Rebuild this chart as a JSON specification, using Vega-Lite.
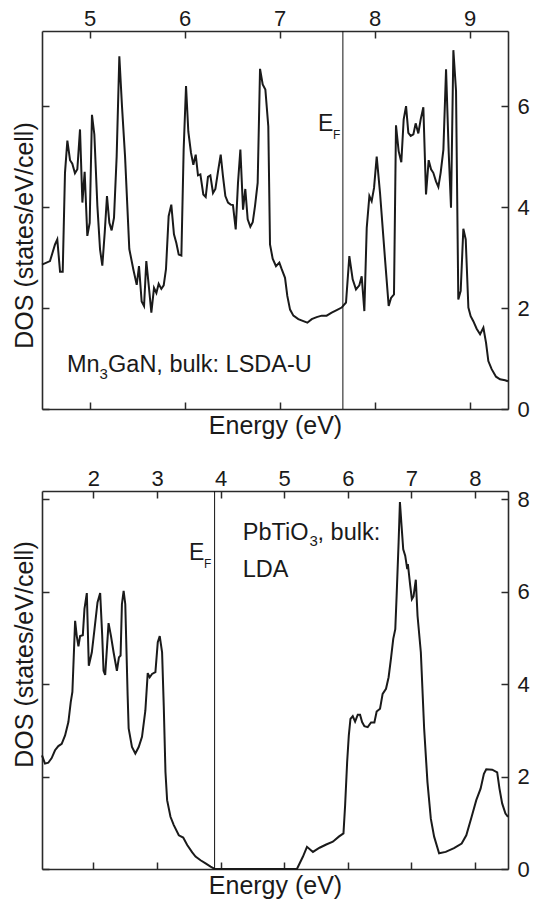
{
  "$schema": "https://vega.github.io/schema/vega-lite/v6.json",
  "padding": {"left": 12, "top": 7, "right": 0, "bottom": 0},
  "background": "white",
  "spacing": 82,
  "bounds": "flush",
  "config": {
    "view": {"stroke": null},
    "font": "Liberation Sans",
    "axis": {
      "grid": false,
      "domainColor": "#2a2a2a",
      "domainWidth": 1.6,
      "tickColor": "#2a2a2a",
      "tickWidth": 1.5,
      "tickSize": -7,
      "labelFont": "Liberation Sans",
      "labelFontSize": 22,
      "labelColor": "#1a1a1a",
      "labelPadding": 4,
      "titleFont": "Liberation Sans",
      "titleFontSize": 25,
      "titleFontWeight": "normal",
      "titleColor": "#1a1a1a",
      "titlePadding": 4
    }
  },
  "datasets": {
    "mn3gan": [
      {"e":4.5,"dos":2.86},{"e":4.584,"dos":2.93},{"e":4.637,"dos":3.26},{"e":4.661,"dos":3.36},{"e":4.69,"dos":2.72},{"e":4.718,"dos":2.72},{"e":4.742,"dos":4.68},{"e":4.767,"dos":5.32},{"e":4.795,"dos":4.93},{"e":4.819,"dos":4.86},{"e":4.847,"dos":4.67},{"e":4.872,"dos":4.75},{"e":4.9,"dos":5.54},{"e":4.925,"dos":4.09},{"e":4.949,"dos":4.7},{"e":4.977,"dos":3.43},{"e":5.002,"dos":3.69},{"e":5.026,"dos":5.83},{"e":5.051,"dos":5.44},{"e":5.083,"dos":4.02},{"e":5.111,"dos":3.16},{"e":5.135,"dos":2.84},{"e":5.16,"dos":3.49},{"e":5.184,"dos":4.22},{"e":5.209,"dos":3.69},{"e":5.233,"dos":3.54},{"e":5.258,"dos":3.79},{"e":5.286,"dos":5.01},{"e":5.314,"dos":6.99},{"e":5.342,"dos":6.0},{"e":5.374,"dos":5.01},{"e":5.419,"dos":3.17},{"e":5.461,"dos":2.77},{"e":5.497,"dos":2.46},{"e":5.521,"dos":2.83},{"e":5.549,"dos":2.13},{"e":5.574,"dos":2.04},{"e":5.598,"dos":2.93},{"e":5.626,"dos":2.4},{"e":5.651,"dos":1.91},{"e":5.679,"dos":2.4},{"e":5.704,"dos":2.3},{"e":5.728,"dos":2.48},{"e":5.756,"dos":2.38},{"e":5.781,"dos":2.45},{"e":5.805,"dos":2.77},{"e":5.833,"dos":3.82},{"e":5.861,"dos":4.05},{"e":5.889,"dos":3.46},{"e":5.914,"dos":3.29},{"e":5.939,"dos":3.06},{"e":5.967,"dos":3.04},{"e":5.991,"dos":5.14},{"e":6.016,"dos":6.4},{"e":6.04,"dos":5.5},{"e":6.068,"dos":5.08},{"e":6.093,"dos":4.84},{"e":6.118,"dos":5.04},{"e":6.142,"dos":4.63},{"e":6.167,"dos":4.65},{"e":6.198,"dos":4.25},{"e":6.223,"dos":4.2},{"e":6.247,"dos":4.6},{"e":6.272,"dos":4.63},{"e":6.3,"dos":4.28},{"e":6.325,"dos":4.36},{"e":6.356,"dos":4.75},{"e":6.381,"dos":5.04},{"e":6.405,"dos":4.61},{"e":6.43,"dos":4.22},{"e":6.458,"dos":4.09},{"e":6.486,"dos":4.05},{"e":6.51,"dos":4.04},{"e":6.539,"dos":3.56},{"e":6.563,"dos":4.48},{"e":6.588,"dos":5.14},{"e":6.616,"dos":3.95},{"e":6.64,"dos":4.36},{"e":6.665,"dos":3.76},{"e":6.693,"dos":3.61},{"e":6.718,"dos":3.7},{"e":6.742,"dos":4.02},{"e":6.77,"dos":4.48},{"e":6.795,"dos":6.74},{"e":6.823,"dos":6.43},{"e":6.851,"dos":6.33},{"e":6.882,"dos":5.6},{"e":6.9,"dos":3.26},{"e":6.928,"dos":2.98},{"e":6.963,"dos":2.83},{"e":6.998,"dos":2.9},{"e":7.023,"dos":2.77},{"e":7.058,"dos":2.6},{"e":7.082,"dos":2.24},{"e":7.111,"dos":1.97},{"e":7.146,"dos":1.85},{"e":7.198,"dos":1.78},{"e":7.251,"dos":1.74},{"e":7.293,"dos":1.71},{"e":7.339,"dos":1.78},{"e":7.391,"dos":1.82},{"e":7.444,"dos":1.85},{"e":7.496,"dos":1.85},{"e":7.549,"dos":1.91},{"e":7.602,"dos":1.96},{"e":7.654,"dos":2.01},{"e":7.7,"dos":2.11},{"e":7.735,"dos":3.03},{"e":7.77,"dos":2.57},{"e":7.805,"dos":2.37},{"e":7.84,"dos":2.45},{"e":7.865,"dos":2.63},{"e":7.893,"dos":1.94},{"e":7.918,"dos":3.59},{"e":7.946,"dos":4.22},{"e":7.97,"dos":4.12},{"e":7.995,"dos":4.38},{"e":8.023,"dos":5.0},{"e":8.058,"dos":4.28},{"e":8.111,"dos":2.96},{"e":8.149,"dos":2.04},{"e":8.174,"dos":2.2},{"e":8.205,"dos":2.27},{"e":8.226,"dos":5.62},{"e":8.254,"dos":5.11},{"e":8.282,"dos":4.89},{"e":8.307,"dos":5.74},{"e":8.332,"dos":6.0},{"e":8.356,"dos":5.47},{"e":8.381,"dos":5.41},{"e":8.409,"dos":5.44},{"e":8.433,"dos":5.66},{"e":8.461,"dos":5.46},{"e":8.486,"dos":5.74},{"e":8.514,"dos":5.98},{"e":8.542,"dos":4.25},{"e":8.57,"dos":4.93},{"e":8.595,"dos":4.75},{"e":8.619,"dos":4.68},{"e":8.647,"dos":4.51},{"e":8.672,"dos":4.4},{"e":8.696,"dos":4.68},{"e":8.725,"dos":5.14},{"e":8.753,"dos":6.73},{"e":8.781,"dos":5.08},{"e":8.805,"dos":3.99},{"e":8.83,"dos":7.11},{"e":8.858,"dos":6.3},{"e":8.882,"dos":2.17},{"e":8.907,"dos":2.34},{"e":8.935,"dos":3.57},{"e":8.96,"dos":3.36},{"e":8.988,"dos":2.01},{"e":9.012,"dos":1.84},{"e":9.04,"dos":1.74},{"e":9.075,"dos":1.59},{"e":9.111,"dos":1.48},{"e":9.146,"dos":1.61},{"e":9.174,"dos":1.31},{"e":9.198,"dos":0.95},{"e":9.233,"dos":0.79},{"e":9.279,"dos":0.64},{"e":9.321,"dos":0.59},{"e":9.374,"dos":0.57},{"e":9.405,"dos":0.55}
    ],
    "pbtio3": [
      {"e":1.19,"dos":2.46},{"e":1.237,"dos":2.28},{"e":1.289,"dos":2.3},{"e":1.342,"dos":2.4},{"e":1.395,"dos":2.57},{"e":1.447,"dos":2.66},{"e":1.5,"dos":2.71},{"e":1.553,"dos":2.89},{"e":1.605,"dos":3.18},{"e":1.642,"dos":3.61},{"e":1.668,"dos":3.83},{"e":1.711,"dos":5.37},{"e":1.737,"dos":5.04},{"e":1.763,"dos":4.82},{"e":1.789,"dos":5.04},{"e":1.832,"dos":5.06},{"e":1.858,"dos":5.63},{"e":1.895,"dos":5.97},{"e":1.926,"dos":4.4},{"e":1.974,"dos":4.69},{"e":2.016,"dos":5.19},{"e":2.063,"dos":5.77},{"e":2.105,"dos":5.97},{"e":2.137,"dos":5.05},{"e":2.158,"dos":4.29},{"e":2.184,"dos":4.2},{"e":2.237,"dos":5.32},{"e":2.274,"dos":5.05},{"e":2.316,"dos":4.69},{"e":2.368,"dos":4.29},{"e":2.4,"dos":4.58},{"e":2.426,"dos":4.62},{"e":2.447,"dos":5.73},{"e":2.474,"dos":6.02},{"e":2.5,"dos":5.73},{"e":2.537,"dos":3.76},{"e":2.553,"dos":3.04},{"e":2.605,"dos":2.64},{"e":2.658,"dos":2.5},{"e":2.711,"dos":2.64},{"e":2.763,"dos":2.86},{"e":2.816,"dos":3.43},{"e":2.853,"dos":4.24},{"e":2.884,"dos":4.15},{"e":2.921,"dos":4.22},{"e":2.974,"dos":4.26},{"e":3.011,"dos":4.91},{"e":3.042,"dos":5.04},{"e":3.079,"dos":4.69},{"e":3.105,"dos":3.54},{"e":3.132,"dos":2.1},{"e":3.158,"dos":1.49},{"e":3.211,"dos":1.13},{"e":3.263,"dos":0.95},{"e":3.342,"dos":0.73},{"e":3.411,"dos":0.68},{"e":3.474,"dos":0.52},{"e":3.553,"dos":0.36},{"e":3.605,"dos":0.27},{"e":3.684,"dos":0.19},{"e":3.763,"dos":0.12},{"e":3.842,"dos":0.05},{"e":3.884,"dos":0.02},{"e":3.905,"dos":0},{"e":5.2,"dos":0},{"e":5.295,"dos":0.27},{"e":5.358,"dos":0.48},{"e":5.452,"dos":0.37},{"e":5.556,"dos":0.46},{"e":5.661,"dos":0.53},{"e":5.765,"dos":0.59},{"e":5.859,"dos":0.7},{"e":5.932,"dos":0.77},{"e":5.958,"dos":1.38},{"e":5.99,"dos":2.32},{"e":6.016,"dos":2.89},{"e":6.042,"dos":3.25},{"e":6.078,"dos":3.31},{"e":6.115,"dos":3.19},{"e":6.157,"dos":3.34},{"e":6.193,"dos":3.34},{"e":6.225,"dos":3.18},{"e":6.261,"dos":3.09},{"e":6.313,"dos":3.07},{"e":6.366,"dos":3.17},{"e":6.418,"dos":3.17},{"e":6.454,"dos":3.41},{"e":6.507,"dos":3.47},{"e":6.548,"dos":3.79},{"e":6.601,"dos":3.9},{"e":6.642,"dos":4.15},{"e":6.679,"dos":4.55},{"e":6.715,"dos":4.98},{"e":6.747,"dos":5.19},{"e":6.768,"dos":5.91},{"e":6.799,"dos":7.06},{"e":6.82,"dos":7.94},{"e":6.846,"dos":7.42},{"e":6.872,"dos":6.92},{"e":6.903,"dos":6.78},{"e":6.935,"dos":6.49},{"e":6.945,"dos":6.6},{"e":6.982,"dos":6.13},{"e":7.008,"dos":5.84},{"e":7.034,"dos":5.9},{"e":7.07,"dos":6.26},{"e":7.097,"dos":5.48},{"e":7.149,"dos":4.69},{"e":7.201,"dos":3.04},{"e":7.253,"dos":1.88},{"e":7.306,"dos":1.09},{"e":7.358,"dos":0.7},{"e":7.436,"dos":0.34},{"e":7.54,"dos":0.37},{"e":7.671,"dos":0.45},{"e":7.791,"dos":0.55},{"e":7.864,"dos":0.73},{"e":7.948,"dos":1.13},{"e":8.021,"dos":1.49},{"e":8.089,"dos":1.74},{"e":8.141,"dos":2.06},{"e":8.178,"dos":2.16},{"e":8.272,"dos":2.15},{"e":8.35,"dos":2.09},{"e":8.386,"dos":1.74},{"e":8.428,"dos":1.42},{"e":8.48,"dos":1.2},{"e":8.52,"dos":1.13}
    ]
  },
  "vconcat": [
    {
      "width": 466,
      "height": 378,
      "data": {"name": "mn3gan"},
      "resolve": {"axis": {"x": "independent", "y": "independent"}},
      "layer": [
        {
          "mark": {"type": "line", "color": "#1a1a1a", "strokeWidth": 2},
          "encoding": {
            "x": {"field": "e", "type": "quantitative", "scale": {"domain": [4.5, 9.405], "nice": false, "zero": false}, "axis": {"orient": "top", "values": [5, 6, 7, 8, 9], "title": null, "labelBaseline": "alphabetic", "labelPadding": 13}},
            "y": {"field": "dos", "type": "quantitative", "scale": {"domain": [0, 7.49], "nice": false}, "axis": {"orient": "right", "values": [0, 2, 4, 6], "title": null, "labelPadding": 16}}
          }
        },
        {
          "data": {"values": [{"ef": 7.667}]},
          "mark": {"type": "rule", "color": "#111111", "strokeWidth": 1},
          "encoding": {
            "x": {"field": "ef", "type": "quantitative", "axis": {"orient": "bottom", "values": [5, 6, 7, 8, 9], "labels": false, "title": "Energy (eV)"}}
          }
        },
        {
          "data": {"values": [{}]},
          "mark": {"type": "text", "text": "Mn", "align": "left", "baseline": "alphabetic", "fontSize": 23.5, "color": "#1a1a1a"},
          "encoding": {
            "x": {"datum": 4.763, "axis": null},
            "y": {"datum": 0.733, "axis": {"orient": "left", "values": [0, 2, 4, 6], "labels": false, "title": "DOS (states/eV/cell)", "titleY": 204}}
          }
        },
        {
          "data": {"values": [{}]},
          "mark": {"type": "text", "text": "3", "align": "left", "baseline": "alphabetic", "fontSize": 15, "color": "#1a1a1a"},
          "encoding": {"x": {"datum": 5.105, "axis": null}, "y": {"datum": 0.604, "axis": null}}
        },
        {
          "data": {"values": [{}]},
          "mark": {"type": "text", "text": "GaN, bulk: LSDA-U", "align": "left", "baseline": "alphabetic", "fontSize": 23.5, "color": "#1a1a1a"},
          "encoding": {"x": {"datum": 5.195, "axis": null}, "y": {"datum": 0.733, "axis": null}}
        },
        {
          "data": {"values": [{}]},
          "mark": {"type": "text", "text": "E", "align": "left", "baseline": "alphabetic", "fontSize": 23, "color": "#1a1a1a"},
          "encoding": {"x": {"datum": 7.405, "axis": null}, "y": {"datum": 5.51, "axis": null}}
        },
        {
          "data": {"values": [{}]},
          "mark": {"type": "text", "text": "F", "align": "left", "baseline": "alphabetic", "fontSize": 12, "color": "#1a1a1a"},
          "encoding": {"x": {"datum": 7.563, "axis": null}, "y": {"datum": 5.35, "axis": null}}
        }
      ]
    },
    {
      "width": 466,
      "height": 378,
      "data": {"name": "pbtio3"},
      "resolve": {"axis": {"x": "independent", "y": "independent"}},
      "layer": [
        {
          "mark": {"type": "line", "color": "#1a1a1a", "strokeWidth": 2},
          "encoding": {
            "x": {"field": "e", "type": "quantitative", "scale": {"domain": [1.19, 8.52], "nice": false, "zero": false}, "axis": {"orient": "top", "values": [2, 3, 4, 5, 6, 7, 8], "title": null, "labelBaseline": "alphabetic", "labelPadding": 13}},
            "y": {"field": "dos", "type": "quantitative", "scale": {"domain": [0, 8.18], "nice": false}, "axis": {"orient": "right", "values": [0, 2, 4, 6, 8], "title": null, "labelPadding": 16}}
          }
        },
        {
          "data": {"values": [{"ef": 3.905}]},
          "mark": {"type": "rule", "color": "#111111", "strokeWidth": 1},
          "encoding": {
            "x": {"field": "ef", "type": "quantitative", "axis": {"orient": "bottom", "values": [2, 3, 4, 5, 6, 7, 8], "labels": false, "title": "Energy (eV)"}}
          }
        },
        {
          "data": {"values": [{}]},
          "mark": {"type": "text", "text": "PbTiO", "align": "left", "baseline": "alphabetic", "fontSize": 23.5, "color": "#1a1a1a"},
          "encoding": {
            "x": {"datum": 4.347, "axis": null},
            "y": {"datum": 7.13, "axis": {"orient": "left", "values": [0, 2, 4, 6, 8], "labels": false, "title": "DOS (states/eV/cell)", "titleY": 163}}
          }
        },
        {
          "data": {"values": [{}]},
          "mark": {"type": "text", "text": "3", "align": "left", "baseline": "alphabetic", "fontSize": 15, "color": "#1a1a1a"},
          "encoding": {"x": {"datum": 5.398, "axis": null}, "y": {"datum": 6.99, "axis": null}}
        },
        {
          "data": {"values": [{}]},
          "mark": {"type": "text", "text": ", bulk:", "align": "left", "baseline": "alphabetic", "fontSize": 23.5, "color": "#1a1a1a"},
          "encoding": {"x": {"datum": 5.524, "axis": null}, "y": {"datum": 7.13, "axis": null}}
        },
        {
          "data": {"values": [{}]},
          "mark": {"type": "text", "text": "LDA", "align": "left", "baseline": "alphabetic", "fontSize": 23.5, "color": "#1a1a1a"},
          "encoding": {"x": {"datum": 4.347, "axis": null}, "y": {"datum": 6.31, "axis": null}}
        },
        {
          "data": {"values": [{}]},
          "mark": {"type": "text", "text": "E", "align": "left", "baseline": "alphabetic", "fontSize": 23, "color": "#1a1a1a"},
          "encoding": {"x": {"datum": 3.502, "axis": null}, "y": {"datum": 6.69, "axis": null}}
        },
        {
          "data": {"values": [{}]},
          "mark": {"type": "text", "text": "F", "align": "left", "baseline": "alphabetic", "fontSize": 12, "color": "#1a1a1a"},
          "encoding": {"x": {"datum": 3.738, "axis": null}, "y": {"datum": 6.52, "axis": null}}
        }
      ]
    }
  ]
}
